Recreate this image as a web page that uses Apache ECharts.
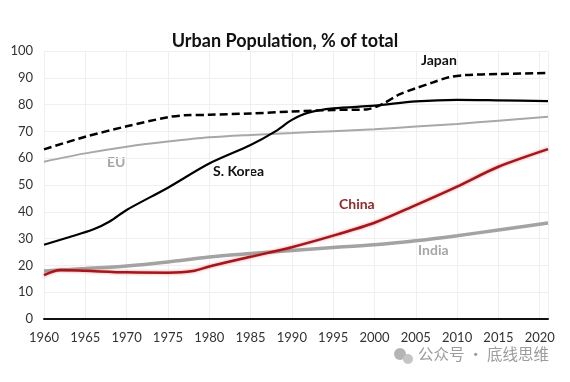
<!DOCTYPE html>
<html><head><meta charset="utf-8">
<script src="https://cdn.jsdelivr.net/npm/echarts@6/dist/echarts.min.js"></script>
<style>html,body{margin:0;padding:0;background:#fff}#c{width:570px;height:382px}</style>
</head><body><div id="c"></div>
<script>
const titleText = 'Urban Population, % of total';
const xTicks = [1960,1965,1970,1975,1980,1985,1990,1995,2000,2005,2010,2015,2020];

const japanYears = [1960,1965,1970,1975,1977,1980,1985,1990,1995,1999,2001,2003,2005,2007,2009,2011,2015,2021];
const japanVals  = [63.3,68.0,71.9,75.3,76.0,76.2,76.7,77.4,78.0,78.2,80.3,83.8,86.1,88.2,90.2,91.0,91.4,91.8];

const koreaYears = [1960,1963,1966,1968,1970,1975,1980,1985,1988,1990,1992,1995,2000,2005,2010,2015,2021];
const koreaVals  = [27.7,30.5,33.5,36.5,40.7,49.0,58.0,64.9,70.0,74.3,77.0,78.6,79.6,81.2,81.8,81.6,81.3];

const euYears = [1960,1965,1970,1975,1980,1985,1990,1995,2000,2005,2010,2015,2021];
const euVals  = [58.7,61.8,64.3,66.2,67.8,68.7,69.4,70.1,70.8,71.8,72.8,74.0,75.5];

const chinaYears = [1960,1962,1965,1970,1975,1978,1980,1985,1990,1995,2000,2005,2010,2015,2021];
const chinaVals  = [16.4,18.3,18.0,17.4,17.3,17.9,19.6,23.2,26.8,31.1,35.9,42.5,49.4,56.8,63.4];

const indiaYears = [1960,1965,1970,1975,1980,1985,1990,1995,2000,2005,2010,2015,2021];
const indiaVals  = [17.9,18.8,19.8,21.3,23.1,24.4,25.6,26.7,27.7,29.2,31.1,33.2,35.8];

const pairs = (xs, ys) => xs.map((x, i) => [x, ys[i]]);
const FONT = 'Lato, "Liberation Sans", sans-serif';

const chart = echarts.init(document.getElementById('c'));
chart.setOption({
  animation: false,
  backgroundColor: '#fff',
  title: { text: titleText, left: 'center', top: 27,
    textStyle: { fontFamily: FONT, fontSize: 18, fontWeight: 'bold', color: '#111' } },
  grid: { left: 44, right: 22, top: 51, bottom: 63 },
  xAxis: {
    type: 'value', min: 1960, max: 2021, interval: 5,
    axisLine: { show: true, lineStyle: { color: '#111', width: 2 } },
    axisTick: { show: false },
    splitLine: { show: true, lineStyle: { color: '#efefef', width: 1 } },
    axisLabel: { fontFamily: FONT, fontSize: 13, color: '#333', margin: 12,
      formatter: v => xTicks.includes(v) ? String(v) : '' }
  },
  yAxis: {
    type: 'value', min: 0, max: 100, interval: 10,
    axisLine: { show: false }, axisTick: { show: false },
    splitLine: { show: true, lineStyle: { color: '#efefef', width: 1 } },
    axisLabel: { fontFamily: FONT, fontSize: 13, color: '#333', margin: 11 }
  },
  series: [
    { name: 'EU', type: 'line', data: pairs(euYears, euVals), symbol: 'none', smooth: 0.3,
      lineStyle: { color: '#a8a8a8', width: 2 }, z: 2 },
    { name: 'India', type: 'line', data: pairs(indiaYears, indiaVals), symbol: 'none', smooth: 0.3,
      lineStyle: { color: '#a3a3a3', width: 3.5 }, z: 2 },
    { name: 'China', type: 'line', data: pairs(chinaYears, chinaVals), symbol: 'none', smooth: 0.3,
      lineStyle: { color: '#a3161c', width: 2.5, shadowColor: 'rgba(230,90,90,0.7)', shadowBlur: 3 }, z: 3 },
    { name: 'S. Korea', type: 'line', data: pairs(koreaYears, koreaVals), symbol: 'none', smooth: 0.3,
      lineStyle: { color: '#000', width: 2.2 }, z: 4 },
    { name: 'Japan', type: 'line', data: pairs(japanYears, japanVals), symbol: 'none', smooth: 0.3,
      lineStyle: { color: '#000', width: 2.5, type: [8, 4] }, z: 5 }
  ],
  graphic: [
    { type: 'text', left: 421, top: 53, style: { text: 'Japan', font: 'bold 14px ' + FONT, fill: '#111' } },
    { type: 'text', left: 213, top: 164, style: { text: 'S. Korea', font: 'bold 14px ' + FONT, fill: '#111' } },
    { type: 'text', left: 107, top: 155, style: { text: 'EU', font: 'bold 14px ' + FONT, fill: '#a6a6a6' } },
    { type: 'text', left: 339, top: 197, style: { text: 'China', font: 'bold 14px ' + FONT, fill: '#8e2a2a' } },
    { type: 'text', left: 418, top: 243, style: { text: 'India', font: 'bold 14px ' + FONT, fill: '#a6a6a6' } },
    { type: 'circle', shape: { cx: 400, cy: 354, r: 6 }, style: { fill: '#b5b5b5' } },
    { type: 'circle', shape: { cx: 408, cy: 359, r: 5 }, style: { fill: '#c5c5c5' } },
    { type: 'text', left: 418, top: 346, style: { text: '公众号 · 底线思维', font: '15.5px "Noto Sans CJK SC", sans-serif', fill: '#9c9c9c' } }
  ]
});
</script></body></html>
